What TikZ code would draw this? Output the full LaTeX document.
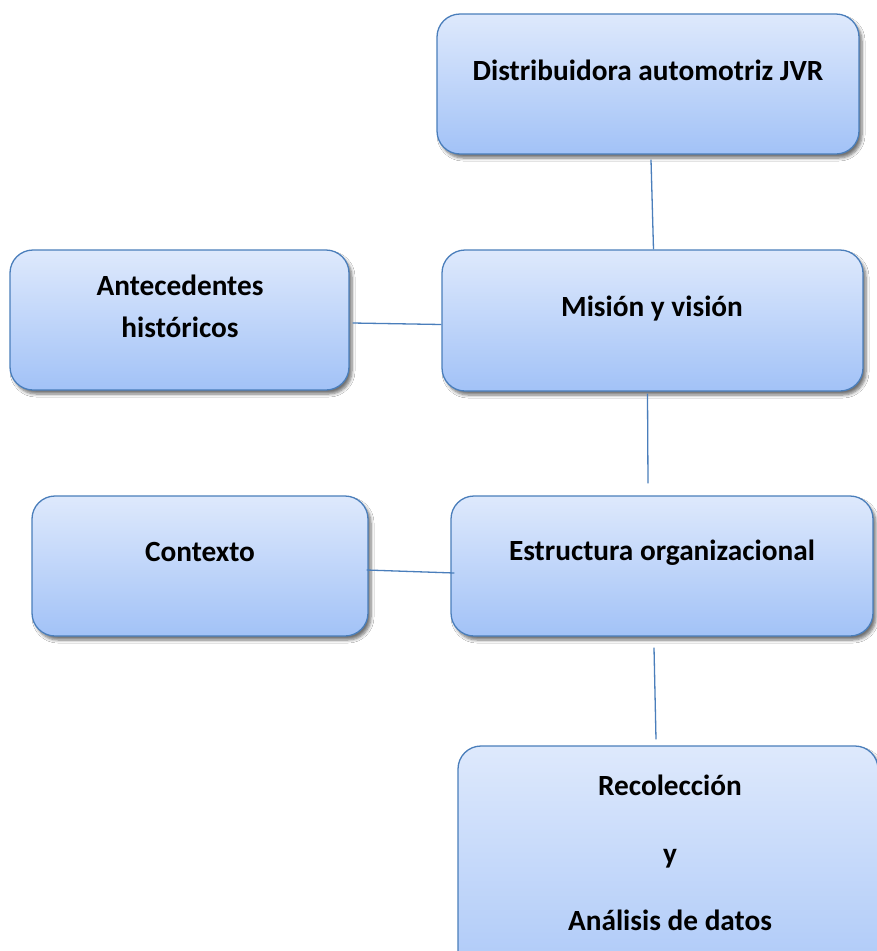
\documentclass[tikz,border=0pt]{standalone}
\usepackage{fontspec}
\setmainfont{Carlito}
\usetikzlibrary{shadows.blur}
\definecolor{edge}{HTML}{4A7EBB}
\definecolor{boxtop}{HTML}{DEE9FC}
\definecolor{boxbot}{HTML}{A2C2F7}
\tikzset{
  box/.style={rounded corners=23pt, draw=edge, line width=1.3pt,
    top color=boxtop, bottom color=boxbot,
    blur shadow={shadow xshift=3pt, shadow yshift=-4pt, shadow opacity=55,
      shadow blur radius=3pt, shadow blur steps=6},
    inner sep=0pt},
  label/.style={font=\fontsize{29.3}{35}\selectfont\bfseries, anchor=base, inner sep=0pt},
  link/.style={draw=edge, line width=1.3pt}
}
\begin{document}
\begin{tikzpicture}[x=1pt, y=-1pt]
\clip (0,0) rectangle (877,951);
\fill[white] (0,0) rectangle (877,951);

% boxes
\node[box, minimum width=422pt, minimum height=140pt] (d) at (648,84) {};
\node[box, minimum width=421pt, minimum height=141pt] (m) at (652.5,320.5) {};
\node[box, minimum width=339pt, minimum height=140pt] (a) at (179.5,320) {};
\node[box, minimum width=422pt, minimum height=140pt] (e) at (662,566) {};
\node[box, minimum width=336pt, minimum height=140pt] (c) at (200,566) {};
\node[box, minimum width=420pt, minimum height=284pt] (r) at (668,888) {};

% labels
\node[label] (dt) at (648,80) {Distribuidora automotriz JVR};
\node[label] (mt) at (652,316) {Misión y visión};
\node[label] (at1) at (180,295) {Antecedentes};
\node[label] (at2) at (180,337) {históricos};
\node[label] (et) at (662,560) {Estructura organizacional};
\node[label] (ct) at (200,561) {Contexto};
\node[label] (rt1) at (670,795) {Recolección};
\node[label] (rt2) at (670,863) {y};
\node[label] (rt3) at (670,930) {Análisis de datos};

% connectors
\draw[link] ([xshift=3pt,yshift=-5pt]d.south) -- ([xshift=1pt]m.north);
\draw[link] ([xshift=3pt,yshift=-3pt]a.east) -- ([yshift=-4pt]m.west);
\draw[link] ([xshift=-5pt,yshift=-2pt]m.south) -- ([xshift=-14pt,yshift=12pt]e.north);
\draw[link] ([xshift=-2pt,yshift=-4pt]c.east) -- ([xshift=4pt,yshift=-7pt]e.west);
\draw[link] ([xshift=-8pt,yshift=-11pt]e.south) -- ([xshift=-12pt,yshift=6pt]r.north);
\end{tikzpicture}
\end{document}
